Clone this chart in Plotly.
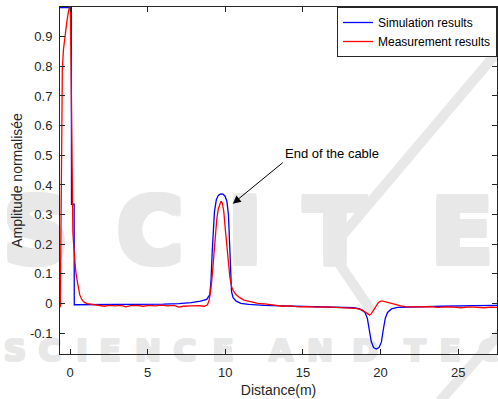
import plotly.graph_objects as go

# ---- data ----
sim_x = [-0.65, 0.08, 0.09, 0.26, 0.27, 1.0, 3.0, 5.0, 6.0, 7.0, 7.8, 8.4, 8.8,
         9.0, 9.08, 9.15, 9.22, 9.3, 9.42, 9.55, 9.7, 9.85, 9.98, 10.1, 10.2,
         10.26, 10.32, 10.4, 10.5, 10.7, 11.0, 11.5, 12.5, 14.0, 16.0, 17.5,
         18.3, 18.7, 19.0, 19.15, 19.28, 19.4, 19.55, 19.72, 19.9, 20.05, 20.17,
         20.3, 20.45, 20.7, 21.1, 22.0, 24.0, 26.0, 27.5]
sim_y = [0.998, 0.998, 0.335, 0.335, -0.004, -0.004, -0.004, -0.004, -0.002, 0.0,
         0.003, 0.008, 0.014, 0.03, 0.08, 0.17, 0.25, 0.31, 0.35, 0.365, 0.37,
         0.369, 0.362, 0.345, 0.3, 0.2, 0.1, 0.04, 0.02, 0.008, 0.001, -0.003,
         -0.006, -0.008, -0.01, -0.011, -0.014, -0.019, -0.03, -0.05, -0.09,
         -0.128, -0.148, -0.153, -0.148, -0.13, -0.09, -0.05, -0.03, -0.018,
         -0.013, -0.011, -0.009, -0.007, -0.006]

meas_x = [-0.63, -0.61, -0.58, -0.55, -0.5, -0.43, -0.33, -0.21, -0.12, -0.05,
          0.02, 0.06, 0.1, 0.13, 0.18, 0.24, 0.3, 0.36, 0.43, 0.52, 0.62, 0.75,
          0.9, 1.1, 1.4, 1.8, 2.2, 2.5, 2.9, 3.3, 3.6, 3.9, 4.3, 4.7, 5.1, 5.5,
          5.9, 6.3, 6.7, 7.0, 7.3, 7.8, 8.3, 8.65, 8.85, 8.95, 9.05, 9.15, 9.25,
          9.35, 9.45, 9.55, 9.65, 9.72, 9.8, 9.9, 10.0, 10.08, 10.18, 10.29,
          10.4, 10.5, 10.7, 10.93, 11.2, 11.6, 12.1, 12.65, 13.2, 13.7, 14.2,
          14.7, 15.3, 15.9, 16.5, 17.2, 17.8, 18.4, 18.8, 19.05, 19.2, 19.3,
          19.42, 19.55, 19.7, 19.85, 20.0, 20.15, 20.4, 20.7, 21.0, 21.3, 21.7,
          22.2, 22.7, 23.2, 23.7, 24.2, 24.7, 25.2, 25.7, 26.2, 26.7, 27.1, 27.5]
meas_y = [-0.012, 0.15, 0.5, 0.7, 0.79, 0.855, 0.91, 0.95, 0.98, 0.998,
          1.0, 0.8, 0.5, 0.3, 0.24, 0.19, 0.14, 0.11, 0.085, 0.055, 0.03, 0.014,
          0.005, 0.0, -0.003, -0.005, -0.009, -0.006, -0.008, -0.006, -0.011,
          -0.007, -0.006, -0.009, -0.006, -0.008, -0.005, -0.008, -0.006, -0.012,
          -0.009, -0.008, -0.007, -0.009, -0.004, 0.01, 0.04, 0.09, 0.16, 0.23,
          0.285, 0.32, 0.34, 0.345, 0.34, 0.31, 0.25, 0.2, 0.14, 0.09, 0.058,
          0.044, 0.03, 0.02, 0.012, 0.006, 0.001, -0.002, -0.006, -0.009, -0.008,
          -0.011, -0.01, -0.012, -0.011, -0.013, -0.013, -0.016, -0.021, -0.03,
          -0.037, -0.039, -0.033, -0.022, -0.008, 0.003, 0.008, 0.008, 0.005,
          0.0, -0.004, -0.008, -0.011, -0.011, -0.012, -0.01, -0.013, -0.011,
          -0.012, -0.014, -0.011, -0.012, -0.014, -0.012, -0.013]

x_ticks = [0, 5, 10, 15, 20, 25]
y_ticks = [-0.1, 0, 0.1, 0.2, 0.3, 0.4, 0.5, 0.6, 0.7, 0.8, 0.9]

# ---- page geometry (pixels) ----
W, H = 498, 399
PL, PR, PT, PB = 60, 497, 7, 354          # plot-area edges
X_RANGE = [-0.65, 27.5]
Y_RANGE = [-0.17, 1.0]
INK = "#262626"
WM = "#e8e8e8"
FONT = "Liberation Sans, Arial, sans-serif"


def heavy(px):
    """text-shadow ring that thickens the strokes of the logo letters"""
    offs = [(px, 0), (-px, 0), (0, px), (0, -px), (px, px), (-px, -px), (px, -px), (-px, px)]
    return ", ".join(f"{a}px {b}px 0 {WM}" for a, b in offs)


fig = go.Figure()

# ---- publisher logo lettering on a full-page background layer (x / y) ----
big = [("S", 36, 240), ("C", 150, 240), ("I", 245, 240), ("T", 335, 240), ("E", 462, 240)]
small = [("S", 15, 353), ("C", 50, 353), ("I", 82, 353), ("E", 110, 353), ("N", 148, 353),
         ("C", 185, 353), ("E", 223, 353), ("A", 281, 353), ("N", 320, 353), ("D", 365, 353),
         ("T", 415, 353), ("E", 450, 353), ("C", 490, 353)]
for letters, size, grow in ((big, 90, 3), (small, 31, 1)):
    fig.add_trace(go.Scatter(
        x=[p for _, p, _ in letters], y=[q for _, _, q in letters],
        text=[c for c, _, _ in letters], mode="text",
        textfont=dict(family="DejaVu Sans", size=size, color=WM, weight="bold",
                      shadow=heavy(grow)),
        textposition="middle center", cliponaxis=False,
        hoverinfo="skip", showlegend=False, xaxis="x", yaxis="y"))

for seg in [((499, 50), (330, 250)), ((330, 250), (372, 312)), ((440, 401), (500, 333))]:
    fig.add_trace(go.Scatter(
        x=[seg[0][0], seg[1][0]], y=[seg[0][1], seg[1][1]], mode="lines",
        line=dict(color=WM, width=10), hoverinfo="skip", showlegend=False,
        cliponaxis=False, xaxis="x", yaxis="y"))

# ---- measured / simulated reflectograms on the data axes (x2 / y2) ----
fig.add_trace(go.Scatter(x=sim_x, y=sim_y, mode="lines", name="Simulation results",
                         line=dict(color="#0000ff", width=1.3), xaxis="x2", yaxis="y2"))
fig.add_trace(go.Scatter(x=meas_x, y=meas_y, mode="lines", name="Measurement results",
                         line=dict(color="#ff0000", width=1.3), xaxis="x2", yaxis="y2"))

fig.add_annotation(x=10.48, y=0.337, xref="x2", yref="y2", ax=50, ay=-41,
                   text="End of the cable", showarrow=True, arrowhead=2,
                   arrowsize=1.6, arrowwidth=1, arrowcolor="black",
                   xanchor="left", yanchor="bottom",
                   font=dict(family=FONT, size=13, color="black"))

axis_common = dict(showline=True, linecolor=INK, linewidth=1, mirror="ticks",
                   ticks="inside", ticklen=5, tickcolor=INK, showgrid=False,
                   zeroline=False, tickfont=dict(family=FONT, size=13, color=INK))

fig.update_layout(
    width=W, height=H,
    margin=dict(l=0, r=0, t=0, b=0),
    paper_bgcolor="white", plot_bgcolor="rgba(0,0,0,0)",
    xaxis=dict(domain=[0, 1], range=[0, W], visible=False, fixedrange=True),
    yaxis=dict(domain=[0, 1], range=[H, 0], visible=False, fixedrange=True),
    xaxis2=dict(domain=[PL / W, PR / W], range=X_RANGE, tickvals=x_ticks,
                anchor="y2", ticklabelstandoff=6,
                title=dict(text="Distance(m)", standoff=6,
                           font=dict(family=FONT, size=14, color=INK)),
                **axis_common),
    yaxis2=dict(domain=[(H - PB) / H, (H - PT) / H], range=Y_RANGE, tickvals=y_ticks,
                ticktext=[f"{v:g}" for v in y_ticks], anchor="x2", ticklabelstandoff=4,
                title=dict(text="Amplitude normalisée", standoff=4,
                           font=dict(family=FONT, size=14, color=INK)),
                **axis_common),
    legend=dict(x=PR / W, y=(H - PT) / H, xanchor="right", yanchor="top",
                bgcolor="white", bordercolor=INK, borderwidth=1,
                font=dict(family=FONT, size=12, color="black"), tracegroupgap=0),
)

fig.write_html("out.html")
